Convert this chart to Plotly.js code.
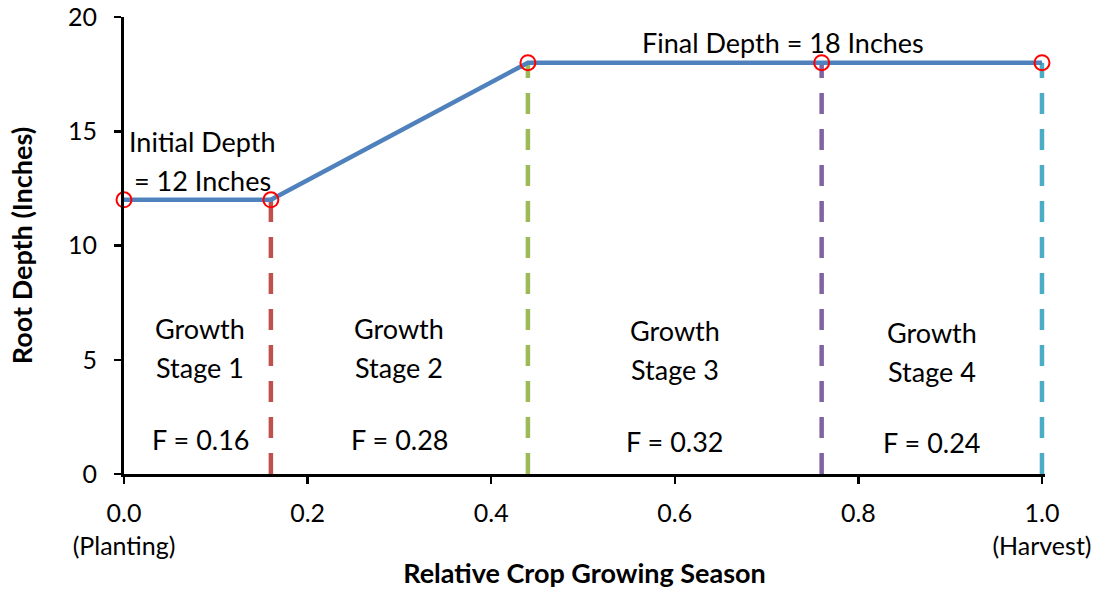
<!DOCTYPE html>
<html>
<head>
<meta charset="utf-8">
<script src="https://cdn.plot.ly/plotly-3.0.1.min.js"></script>
<style>html,body{margin:0;padding:0;background:#fff;}#chart{width:1103px;height:592px;}</style>
</head>
<body>
<div id="chart"></div>
<script>
// Root depth curve points
var seasonX = [0, 0.16, 0.44, 0.76, 1.0];
var rootDepth = [12, 12, 18, 18, 18];

// Growth stage boundaries (dashed lines) and colours
var stageEnds = [0.16, 0.44, 0.76, 1.0];
var stageEndDepth = [12, 18, 18, 18];
var stageColors = ['#C0504D', '#9BBB59', '#8064A2', '#4BACC6'];

// Stage labels
var stageNames = ['Growth<br>Stage 1', 'Growth<br>Stage 2', 'Growth<br>Stage 3', 'Growth<br>Stage 4'];
var stageF = ['F = 0.16', 'F = 0.28', 'F = 0.32', 'F = 0.24'];
var stageLabelX = [0.083, 0.30, 0.60, 0.88];
var stageNameY = [5.5, 5.5, 5.43, 5.34];
var stageFY = [1.53, 1.53, 1.44, 1.40];

// Depth labels
var depthLabels = ['Initial Depth<br>= 12 Inches', 'Final Depth = 18 Inches'];
var depthLabelX = [0.086, 0.718];
var depthLabelY = [13.7, 18.9];

// Axis ticks
var xTickVals = [0, 0.2, 0.4, 0.6, 0.8, 1.0];
var xTickText = ['0.0<br>(Planting)', '0.2', '0.4', '0.6', '0.8', '1.0<br>(Harvest)'];
var yTickVals = [0, 5, 10, 15, 20];

var FONT = 'Lato, "Liberation Sans", sans-serif';
var ANN = 27;
var LINE_GAP = 39;

var traces = [];
for (var i = 0; i < stageEnds.length; i++) {
  traces.push({
    x: [stageEnds[i], stageEnds[i]],
    y: [0, stageEndDepth[i]],
    mode: 'lines',
    line: {color: stageColors[i], width: 4.5, dash: '21px,15px'},
    hoverinfo: 'skip',
    showlegend: false,
    cliponaxis: false
  });
}
traces.push({
  x: seasonX, y: rootDepth,
  mode: 'lines',
  line: {color: '#4F81BD', width: 4.5},
  showlegend: false,
  cliponaxis: false
});
traces.push({
  x: seasonX, y: rootDepth,
  mode: 'markers',
  marker: {symbol: 'circle-open', size: 15, color: '#FF0000', line: {width: 2, color: '#FF0000'}},
  showlegend: false,
  cliponaxis: false
});

var annotations = [];
function addLabel(text, x, y) {
  var lines = text.split('<br>');
  var n = lines.length;
  for (var k = 0; k < n; k++) {
    annotations.push({
      x: x, y: y, xref: 'x', yref: 'y', text: lines[k], showarrow: false,
      yshift: ((n - 1) / 2 - k) * LINE_GAP,
      font: {family: FONT, size: ANN, color: '#000'}
    });
  }
}
for (var j = 0; j < stageNames.length; j++) {
  addLabel(stageNames[j], stageLabelX[j], stageNameY[j]);
  addLabel(stageF[j], stageLabelX[j], stageFY[j]);
}
for (var d = 0; d < depthLabels.length; d++) {
  addLabel(depthLabels[d], depthLabelX[d], depthLabelY[d]);
}

var layout = {
  width: 1103, height: 592,
  margin: {l: 124, r: 58, t: 17, b: 118},
  paper_bgcolor: '#fff', plot_bgcolor: '#fff',
  font: {family: FONT, size: 25, color: '#000'},
  showlegend: false,
  xaxis: {
    range: [0, 1.0033], tickvals: xTickVals, ticktext: xTickText,
    showgrid: false, zeroline: false, showline: true, linecolor: '#000', linewidth: 3,
    ticks: 'outside', ticklen: 7, tickwidth: 2.5, tickcolor: '#000',
    ticklabelstandoff: 8,
    tickfont: {family: FONT, size: 25, color: '#000'},
    automargin: false,
    title: {text: 'Relative Crop Growing Season', font: {family: FONT, size: 27, color: '#000', weight: 'bold'}, standoff: 6}
  },
  yaxis: {
    range: [0, 20], tickvals: yTickVals,
    showgrid: false, zeroline: false, showline: true, linecolor: '#000', linewidth: 3,
    ticks: 'outside', ticklen: 7, tickwidth: 2.5, tickcolor: '#000',
    ticklabelstandoff: 12,
    tickfont: {family: FONT, size: 25, color: '#000'},
    automargin: false,
    title: {text: 'Root Depth (Inches)', font: {family: FONT, size: 27, color: '#000', weight: 'bold'}, standoff: 28}
  },
  annotations: annotations
};

Plotly.newPlot('chart', traces, layout, {displayModeBar: false, staticPlot: true});
</script>
</body>
</html>
